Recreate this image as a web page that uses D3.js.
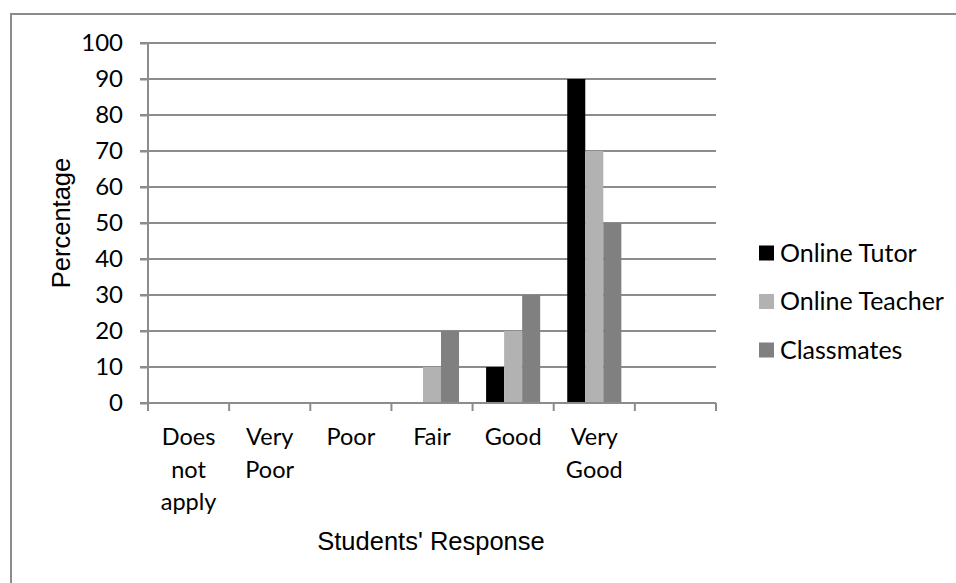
<!DOCTYPE html>
<html>
<head>
<meta charset="utf-8">
<script src="https://cdnjs.cloudflare.com/ajax/libs/d3/7.8.5/d3.min.js"></script>
<style>
  body { margin: 0; background: #fff; }
  svg { display: block; }
</style>
</head>
<body>
<div id="chart"></div>
<script>
// Données du graphique
const categories = ["Does not apply", "Very Poor", "Poor", "Fair", "Good", "Very Good", ""];
const seriesNames = ["Online Tutor", "Online Teacher", "Classmates"];
const onlineTutor = [0, 0, 0, 0, 10, 90, 0];
const onlineTeacher = [0, 0, 0, 10, 20, 70, 0];
const classmates = [0, 0, 0, 20, 30, 50, 0];
const yTicks = [0, 10, 20, 30, 40, 50, 60, 70, 80, 90, 100];
const colors = ["#000000", "#b2b2b2", "#808080"];

const seriesValues = [onlineTutor, onlineTeacher, classmates];

const width = 956, height = 583;
const plot = { left: 148, right: 716, top: 43, bottom: 403 };
const labelFont = "Lato, 'Open Sans', sans-serif";
const titleFont = "'Liberation Sans', Arial, sans-serif";

const svg = d3.select('#chart')
    .append('svg')
    .attr('width', width)
    .attr('height', height);

// Cadre extérieur
svg.append('rect')
    .attr('x', 11)
    .attr('y', 14)
    .attr('width', 960)
    .attr('height', 600)
    .attr('fill', 'none')
    .attr('stroke', '#8c8c8c')
    .attr('stroke-width', 2);

// Échelles
const x = d3.scaleBand()
    .domain(categories.map((c, i) => i))
    .range([plot.left, plot.right]);

const x1 = d3.scaleBand()
    .domain(seriesNames)
    .range([0, x.bandwidth()])
    .paddingOuter(0.75)
    .paddingInner(0);

const y = d3.scaleLinear()
    .domain([0, 100])
    .range([plot.bottom, plot.top]);

// Lignes de grille horizontales
svg.append('g')
    .selectAll('line')
    .data(yTicks.filter(t => t > 0))
    .enter()
    .append('line')
    .attr('x1', plot.left - 8)
    .attr('x2', plot.right)
    .attr('y1', d => y(d))
    .attr('y2', d => y(d))
    .attr('stroke', '#8c8c8c')
    .attr('stroke-width', 2);

// Barres
seriesValues.forEach((vals, s) => {
    svg.append('g')
        .selectAll('rect')
        .data(vals.map((v, i) => ({ i, v })).filter(d => d.v > 0))
        .enter()
        .append('rect')
        .attr('x', d => x(d.i) + x1(seriesNames[s]))
        .attr('y', d => y(d.v))
        .attr('width', x1.bandwidth())
        .attr('height', d => y(0) - y(d.v))
        .attr('fill', colors[s]);
});

// Axe Y
const yAxis = svg.append('g')
    .attr('transform', `translate(${plot.left},0)`)
    .call(d3.axisLeft(y).tickValues(yTicks).tickSize(8).tickPadding(17));
yAxis.select('.domain').attr('stroke', '#8c8c8c').attr('stroke-width', 2)
    .attr('d', `M0,${plot.top}V${plot.bottom}`);
yAxis.selectAll('.tick line').attr('stroke', '#8c8c8c').attr('stroke-width', 2);
yAxis.selectAll('.tick text')
    .attr('font-family', labelFont)
    .attr('font-size', '24px')
    .attr('fill', '#000');

// Axe X
const xTicks = d3.range(categories.length + 1);
const xAxisG = svg.append('g');
xAxisG.append('line')
    .attr('x1', plot.left - 8)
    .attr('x2', plot.right)
    .attr('y1', plot.bottom)
    .attr('y2', plot.bottom)
    .attr('stroke', '#8c8c8c')
    .attr('stroke-width', 2);
xAxisG.selectAll('.xtick')
    .data(xTicks)
    .enter()
    .append('line')
    .attr('x1', d => d < categories.length ? x(d) : plot.right)
    .attr('x2', d => d < categories.length ? x(d) : plot.right)
    .attr('y1', plot.bottom)
    .attr('y2', plot.bottom + 8)
    .attr('stroke', '#8c8c8c')
    .attr('stroke-width', 2);

// Libellés des catégories
const wrapLines = {
    "Does not apply": ["Does", "not", "apply"],
    "Very Poor": ["Very", "Poor"],
    "Very Good": ["Very", "Good"]
};
categories.forEach((c, i) => {
    const lines = wrapLines[c] || [c];
    const t = svg.append('text')
        .attr('x', x(i) + x.bandwidth() / 2)
        .attr('y', 445)
        .attr('text-anchor', 'middle')
        .attr('font-family', labelFont)
        .attr('font-size', '23.5px')
        .attr('fill', '#000');
    lines.forEach((l, k) => {
        t.append('tspan')
            .attr('x', x(i) + x.bandwidth() / 2)
            .attr('dy', k === 0 ? 0 : 32.5)
            .text(l);
    });
});

// Titres des axes
svg.append('text')
    .attr('x', 431)
    .attr('y', 550)
    .attr('text-anchor', 'middle')
    .attr('font-family', titleFont)
    .attr('font-size', '25.5px')
    .attr('fill', '#000')
    .text("Students' Response");

svg.append('text')
    .attr('transform', 'translate(70,223) rotate(-90)')
    .attr('text-anchor', 'middle')
    .attr('font-family', titleFont)
    .attr('font-size', '25.5px')
    .attr('fill', '#000')
    .text('Percentage');

// Légende
const legend = svg.append('g')
    .selectAll('.legend')
    .data(seriesNames)
    .enter()
    .append('g')
    .attr('transform', (d, i) => `translate(759,${253 + i * 48.5})`);

legend.append('rect')
    .attr('x', 0)
    .attr('y', -7.5)
    .attr('width', 15)
    .attr('height', 15)
    .attr('fill', (d, i) => colors[i]);

legend.append('text')
    .attr('x', 21)
    .attr('y', 0)
    .attr('dy', '0.35em')
    .attr('font-family', labelFont)
    .attr('font-size', '25px')
    .attr('fill', '#000')
    .text(d => d);
</script>
</body>
</html>
